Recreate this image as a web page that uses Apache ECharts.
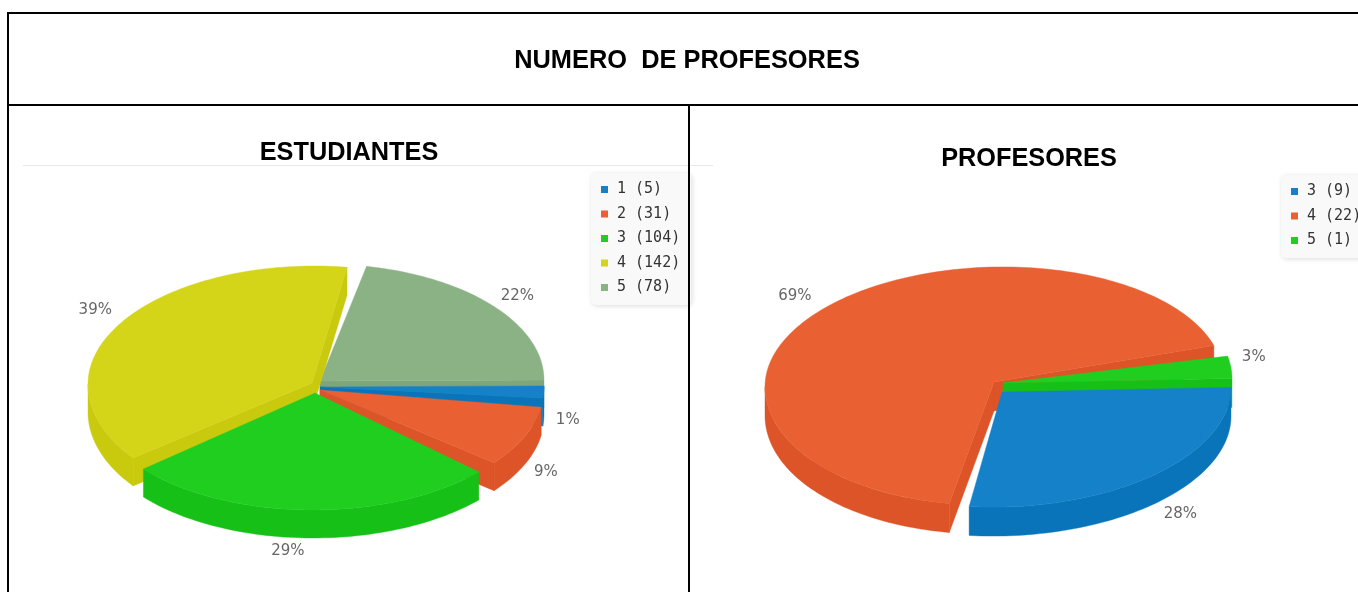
<!DOCTYPE html>
<html><head><meta charset="utf-8">
<style>html,body{margin:0;padding:0;background:#fff}#c{width:1358px;height:592px}</style>
<script src="https://cdn.jsdelivr.net/npm/echarts@6/dist/echarts.min.js"></script>
</head><body><div id="c"></div>
<script>
// ---- data ----
const pageTitle = 'NUMERO  DE PROFESORES';
const leftTitle = 'ESTUDIANTES';
const rightTitle = 'PROFESORES';
const leftCategories = ['1', '2', '3', '4', '5'];
const leftValues = [5, 31, 104, 142, 78];
const rightCategories = ['3', '4', '5'];
const rightValues = [9, 22, 1];

// ---- style and layout ----
const leftTop = ['#1481c9', '#e96033', '#20ce20', '#d4d419', '#8ab285'];
const leftSide = ['#0a74bb', '#dc5427', '#16c016', '#c9c90e', '#7ea67a'];
const rightTop = ['#1481c9', '#e96033', '#20ce20'];
const rightSide = ['#0a74bb', '#dc5427', '#16c016'];

const leftPie = {
  categories: leftCategories, values: leftValues, top: leftTop, side: leftSide,
  cx: 318, cy: 386, rx: 224, ry: 117, depth: 28, tilt: -0.005,
  shift: [[2, 1], [2, 4], [-3, 7], [-6, -3], [2, -5]],
  nearRy: [117, 117, 117, 123, 117],
  startNudge: [0, 4, 7, 3, 0], endNudge: [1, 3, 0, -3, 0],
  labelNudge: [[-4, 0], [-10, 9], [-39, -2], [-5, -4], [2, -2.5]]
};
const rightPie = {
  categories: rightCategories, values: rightValues, top: rightTop, side: rightSide,
  cx: 997, cy: 385, rx: 229, ry: 115, depth: 29, tilt: -0.02,
  shift: [[5, 7], [-3, -3], [6, -2]],
  nearRy: [115, 123, 115],
  startNudge: [0, 0, 0], endNudge: [-3, -5, 0],
  labelNudge: [[19, -6], [-19, 8], [-1, -14]]
};

const RAD = Math.PI / 180;
function sliceAngles(pie) {
  const total = pie.values.reduce((a, b) => a + b, 0);
  let run = 0;
  return pie.values.map((v, i) => {
    const a0 = run * 360 / total; run += v;
    const a1 = run * 360 / total;
    return { a0, a1, mid: (a0 + a1) / 2, start: a0 + pie.startNudge[i], end: a1 + pie.endNudge[i], pct: Math.round(v * 100 / total) + '%' };
  });
}
function sliceShape(pie, i, ang) {
  const [sx, sy] = pie.shift[i];
  const ox = pie.cx + sx, oy = pie.cy + sy;
  const pt = (deg, dz) => {
    const c = Math.cos(deg * RAD), s = Math.sin(deg * RAD);
    const r = s > 0 ? pie.nearRy[i] : pie.ry;
    return [ox + pie.rx * c, oy + r * s + pie.tilt * pie.rx * c + dz];
  };
  const arc = (a, b, dz) => {
    const pts = [], n = Math.max(2, Math.ceil((b - a) / 1.5));
    for (let k = 0; k <= n; k++) pts.push(pt(a + (b - a) * k / n, dz));
    return pts;
  };
  const kids = [];
  const poly = (points, fill) => kids.push({
    type: 'polygon', shape: { points }, style: { fill, stroke: fill, lineWidth: 0.4 }, silent: true
  });
  const apex = [ox, oy], apexLow = [ox, oy + pie.depth];
  // visible radial walls
  if (Math.cos(ang.start * RAD) < 0) poly([apex, pt(ang.start, 0), pt(ang.start, pie.depth), apexLow], pie.side[i]);
  if (Math.cos(ang.end * RAD) > 0) poly([apex, pt(ang.end, 0), pt(ang.end, pie.depth), apexLow], pie.side[i]);
  // curved rim on the near half
  const a = Math.max(ang.start, 0), b = Math.min(ang.end, 180);
  if (b > a) poly(arc(a, b, 0).concat(arc(a, b, pie.depth).reverse()), pie.side[i]);
  // top face
  poly([apex].concat(arc(ang.start, ang.end, 0)), pie.top[i]);
  // percentage label
  const c = Math.cos(ang.mid * RAD), s = Math.sin(ang.mid * RAD);
  kids.push({
    type: 'text', silent: true, z2: 50,
    style: {
      text: ang.pct, x: pie.cx + (pie.rx + 30) * c + pie.labelNudge[i][0],
      y: pie.cy + (pie.ry + 22) * s + (s > 0 ? pie.depth : 0) + pie.labelNudge[i][1],
      align: 'center', verticalAlign: 'middle',
      font: '15px "DejaVu Sans"', fill: '#666'
    }
  });
  return { type: 'group', children: kids };
}
function pieSeries(pie) {
  const angs = sliceAngles(pie);
  const order = pie.values.map((_, i) => i)
    .sort((p, q) => Math.sin(angs[p].mid * RAD) - Math.sin(angs[q].mid * RAD));
  return order.map(i => ({
    type: 'custom', coordinateSystem: 'none', silent: true,
    name: pie.categories[i] + ' (' + pie.values[i] + ')',
    itemStyle: { color: pie.top[i] },
    data: [pie.values[i]],
    renderItem: () => sliceShape(pie, i, angs[i])
  }));
}
function legendFor(pie, left, top) {
  return {
    orient: 'vertical', left, top, icon: 'rect', itemWidth: 7, itemHeight: 7, itemGap: 9.5,
    padding: [9, 11, 10, 10], backgroundColor: '#f9f9f9', borderRadius: 5,
    shadowColor: 'rgba(0,0,0,0.14)', shadowBlur: 5, shadowOffsetY: 1, shadowOffsetX: 1,
    selectedMode: false,
    textStyle: { fontFamily: '"DejaVu Sans Mono"', fontSize: 15, color: '#333', lineHeight: 15, padding: [0, 0, 0, 4] },
    data: pie.categories.map((c, i) => c + ' (' + pie.values[i] + ')')
  };
}
function rule(x1, y1, x2, y2, stroke, lineWidth) {
  return { type: 'line', z: 100, silent: true, shape: { x1, y1, x2, y2 }, style: { stroke, lineWidth } };
}
const titleFont = { fontFamily: '"Liberation Sans"', fontWeight: 'bold', color: '#000' };
const chart = echarts.init(document.getElementById('c'), null, { renderer: 'canvas' });
chart.setOption({
  animation: false,
  backgroundColor: '#fff',
  title: [
    { text: pageTitle, left: 682, top: 56, textAlign: 'center', textVerticalAlign: 'middle', textStyle: { ...titleFont, fontSize: 25.4 } },
    { text: leftTitle, left: 344, top: 148, textAlign: 'center', textVerticalAlign: 'middle', textStyle: { ...titleFont, fontSize: 25.3 } },
    { text: rightTitle, left: 1024, top: 154, textAlign: 'center', textVerticalAlign: 'middle', textStyle: { ...titleFont, fontSize: 25.3 } }
  ],
  legend: [legendFor(leftPie, 591, 173), legendFor(rightPie, 1281, 175)],
  series: pieSeries(leftPie).concat(pieSeries(rightPie)),
  graphic: [
    rule(23, 165.5, 713, 165.5, '#e8e8e8', 1),
    rule(7, 13, 1358, 13, '#000', 2),
    rule(8, 12, 8, 592, '#000', 2),
    rule(7, 105, 1358, 105, '#000', 2),
    rule(689, 105, 689, 592, '#000', 2)
  ]
});
</script></body></html>
